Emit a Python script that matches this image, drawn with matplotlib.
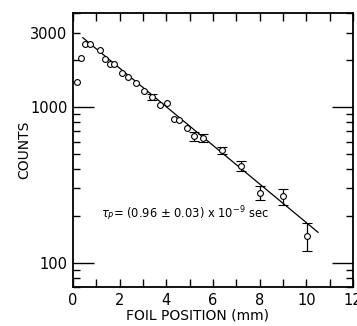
import numpy as np
import matplotlib
matplotlib.use("Agg")
import matplotlib.pyplot as plt

pos_mm = [0.17, 0.36, 0.53, 0.74, 1.17, 1.37, 1.57, 1.74, 2.10, 2.36,
          2.72, 3.06, 3.72, 4.03, 4.33, 4.55, 4.89]
counts = [1436, 2061, 2519, 2519, 2331, 2022, 1887, 1871, 1640, 1553,
          1429, 1259, 1034, 1065, 835, 826, 732]

# points carrying error bars
err_pos = [3.39, 5.18, 5.59, 6.38, 7.20, 8.01, 9.00, 10.01]
err_counts = [1158, 647, 635, 529, 421, 282, 267, 149]
err_size = [55, 45, 40, 28, 30, 30, 32, 30]

# exponential fit line (straight on log scale)
fit_x = [0.42, 10.5]
fit_y = [2780, 157]

x_ticks = [0, 2, 4, 6, 8, 10, 12]
y_major = [100, 1000]
y_minor = [70, 80, 90, 200, 300, 400, 500, 600, 700, 800, 900, 2000, 3000, 4000]

plt.rcParams["font.family"] = "DejaVu Sans"

fig = plt.figure(figsize=(3.57, 3.26), dpi=100)
ax = fig.add_axes([0.2045, 0.1196, 0.7845, 0.8404])

ax.plot(fit_x, fit_y, color="black", linewidth=0.9)
ax.plot(pos_mm, counts, "o", mfc="white", mec="black", ms=4.2, mew=0.8, zorder=3)
ax.errorbar(err_pos, err_counts, yerr=err_size, fmt="o", mfc="white", mec="black",
            ms=4.2, mew=0.8, ecolor="black", elinewidth=0.9, capsize=3.5,
            capthick=0.9, zorder=3)

ax.set_yscale("log")
ax.set_xlim(0, 12)
ax.set_ylim(70, 4000)

ax.set_xticks(x_ticks)
ax.set_xticklabels([str(v) for v in x_ticks])
ax.set_xticks(np.arange(1, 12, 2), minor=True)
ax.set_yticks(y_major)
ax.set_yticklabels(["100", "1000"])
ax.set_yticks(y_minor, minor=True)
ax.set_yticklabels(["3000" if v == 3000 else "" for v in y_minor], minor=True)

ax.tick_params(axis="x", which="both", direction="in", top=True, length=6,
               width=1, labelsize=10.5, pad=4)
ax.tick_params(axis="y", which="major", direction="in", right=True, length=15,
               width=1, labelsize=10.5, pad=4)
ax.tick_params(axis="y", which="minor", direction="in", right=True, length=5,
               width=1, labelsize=10.5, pad=4)

for s in ax.spines.values():
    s.set_linewidth(1.3)

ax.text(8.4, 207, r"$\tau_P$= (0.96 $\pm$ 0.03) x 10$^{-9}$ sec", fontsize=8.3,
        va="center", ha="right")

ax.set_ylabel("COUNTS", fontsize=10)
ax.yaxis.set_label_coords(-0.15, 0.5)
ax.set_xlabel("FOIL POSITION (mm)", fontsize=10)
ax.xaxis.set_label_coords(0.443, -0.08)

fig.savefig("out.png", dpi=100)
